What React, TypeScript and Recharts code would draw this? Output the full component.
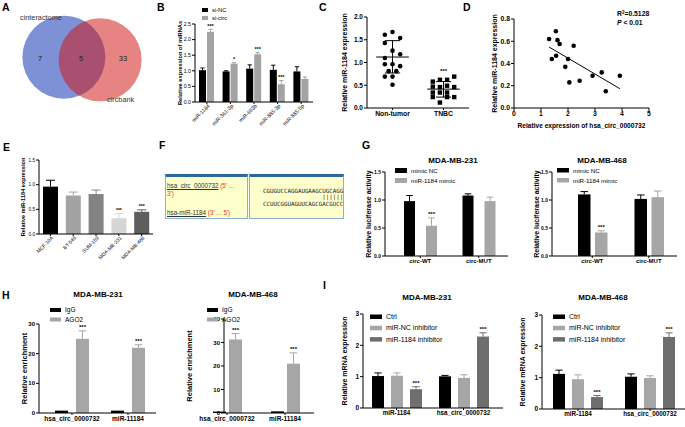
import React from "react";
import { BarChart, Bar, XAxis, YAxis, ScatterChart, Scatter, ReferenceLine } from "recharts";

const FONT = "'Liberation Sans', Arial, Helvetica, sans-serif";

// ---- A: venn
const vennNames = ["cinteractome", "circbank"];
const vennCounts = [7, 5, 33];

// ---- B
const bCats = ["miR-1184", "miR-361-3p", "miR-663b", "miR-885-3p", "miR-885-5p"];
const bNC = [1.02, 0.98, 1.07, 1.03, 0.98];
const bNCErr = [0.07, 0.02, 0.12, 0.15, 0.15];
const bCirc = [2.25, 1.23, 1.53, 0.57, 0.74];
const bCircErr = [0.08, 0.03, 0.05, 0.12, 0.06];
const bStars = ["***", "*", "***", "***", ""];
const bTicks = [0, 0.5, 1, 1.5, 2, 2.5];

// ---- C
const cCats = ["Non-tumor", "TNBC"];
const cNonTumor = [1.67, 1.61, 1.54, 1.43, 1.26, 1.18, 1.1, 0.96, 0.96, 0.92, 0.81, 0.81, 0.69, 0.69, 0.51];
const cNonTumorLane = [0, -1, 1, -1, 0, 1, -1, -1, 0, 1, -0.5, 0.5, -1, 0, 0];
const cTnbc = [0.69, 0.62, 0.62, 0.58, 0.49, 0.47, 0.46, 0.46, 0.34, 0.34, 0.34, 0.24, 0.24, 0.24, 0.12];
const cTnbcLane = [1.5, -0.5, 0.5, -1.5, 0.5, -1.5, -0.5, 1.5, -1.5, -0.5, 0.5, -1.5, 0.5, 1.5, -0.5];
const cMean = [1.12, 0.415];
const cSdLow = [0.77, 0.24];
const cSdHigh = [1.48, 0.58];
const cTicks = [0, 0.5, 1, 1.5, 2];

// ---- D
const dX = [1.3, 1.55, 1.61, 1.69, 2.21, 1.4, 1.56, 2.0, 1.9, 2.05, 2.43, 2.91, 3.25, 3.4, 3.92];
const dY = [0.62, 0.69, 0.61, 0.575, 0.56, 0.44, 0.47, 0.44, 0.37, 0.23, 0.245, 0.29, 0.32, 0.15, 0.29];
const dFitX = [1.3, 3.92];
const dFitY = [0.548, 0.174];
const dXTicks = [0, 1, 2, 3, 4, 5];
const dYTicks = [0, 0.2, 0.4, 0.6, 0.8];

// ---- E
const eCats = ["MCF-10A", "BT-549", "SUM-159", "MDA-MB-231", "MDA-MB-468"];
const eVals = [0.96, 0.78, 0.81, 0.32, 0.45];
const eErrs = [0.13, 0.07, 0.08, 0.09, 0.04];
const eStars = ["", "", "", "***", "***"];
const eColors = ["#000000", "#a3a3a3", "#838383", "#d6d6d6", "#5e5e5e"];
const eTicks = [0, 0.5, 1, 1.5];

// ---- G
const gCats = ["circ-WT", "circ-MUT"];
const g231NC = [0.98, 1.08];
const g231NCErr = [0.1, 0.03];
const g231Mimic = [0.54, 0.98];
const g231MimicErr = [0.14, 0.07];
const g468NC = [1.1, 1.02];
const g468NCErr = [0.05, 0.07];
const g468Mimic = [0.42, 1.05];
const g468MimicErr = [0.03, 0.11];
const gStars = ["***", ""];
const gTicks = [0, 0.5, 1, 1.5];

// ---- H
const hCats = ["hsa_circ_0000732", "miR-11184"];
const h231IgG = [0.8, 0.8];
const h231AGO2 = [25, 22];
const h231AGO2Err = [2.7, 1.0];
const h468IgG = [0.6, 0.7];
const h468AGO2 = [31.3, 21];
const h468AGO2Err = [2.5, 4.6];
const hStars = ["***", "***"];

// ---- I
const iCats = ["miR-1184", "hsa_circ_0000732"];
const i231Ctrl = [1.02, 1.01];
const i231CtrlErr = [0.1, 0.03];
const i231NC = [1.03, 0.96];
const i231NCErr = [0.09, 0.1];
const i231Inh = [0.6, 2.28];
const i231InhErr = [0.08, 0.12];
const i468Ctrl = [1.12, 1.03];
const i468CtrlErr = [0.12, 0.09];
const i468NC = [0.95, 0.99];
const i468NCErr = [0.14, 0.07];
const i468Inh = [0.38, 2.3];
const i468InhErr = [0.05, 0.13];
const iStars = ["***", "***"];
const iTicks = [0, 1, 2, 3];

const GREY = "#a6a6a6";
const DARK = "#6e6e6e";

function makeShape(vk: string, ek: string, sk: string, starFs: number) {
  return (p: any) => {
    const { x, y, width, height, fill, payload } = p;
    const v = payload[vk];
    const e = payload[ek] || 0;
    const k = v ? height / v : 0;
    const top = y - e * k;
    const cx = x + width / 2;
    const cap = Math.max(1.5, width * 0.3);
    const star = payload[sk];
    return (
      <g>
        <rect x={x} y={y} width={width} height={Math.max(height, 0)} fill={fill} />
        {e > 0 && (
          <path d={`M${cx},${y} V${top} M${cx - cap},${top} H${cx + cap}`} stroke={fill} strokeWidth={1} fill="none" />
        )}
        {star ? (
          <text x={cx} y={top - 1.5} textAnchor="middle" fontSize={starFs} fontFamily={FONT} fontWeight="bold" fill="#000">
            {star}
          </text>
        ) : null}
      </g>
    );
  };
}

const RotTick = (props: any) => {
  const { x, y, payload, fs } = props;
  return (
    <g transform={`translate(${x + 2},${y}) rotate(-45)`}>
      <text x={0} y={0} dy={fs * 0.35} textAnchor="end" fontSize={fs} fontFamily={FONT} fill="#000">
        {payload.value}
      </text>
    </g>
  );
};

type Series = { vals: number[]; errs: number[]; stars?: string[]; color: string };

function GroupChart(props: any) {
  const { left, top, width, height, margin, yWidth, xHeight, cats, series, domain, ticks, dec, yLabel, yOff, yFs, tickFs, xFs, barSize, barGap, rotate, xPad, bold, starFs } = props;
  const data = cats.map((c: string, i: number) => {
    const row: any = { cat: c };
    series.forEach((s: Series, j: number) => {
      row[`v${j}`] = s.vals[i];
      row[`e${j}`] = s.errs[i];
      row[`s${j}`] = s.stars ? s.stars[i] : "";
    });
    return row;
  });
  const fw = bold ? "bold" : "normal";
  return (
    <div style={{ position: "absolute", left, top }}>
      <BarChart width={width} height={height} data={data} margin={margin} barGap={barGap} barSize={barSize}>
        <XAxis
          dataKey="cat"
          height={xHeight}
          interval={0}
          tickSize={2}
          tickMargin={1}
          padding={xPad || { left: 0, right: 0 }}
          axisLine={{ stroke: "#000" }}
          tickLine={{ stroke: "#000" }}
          tick={rotate ? <RotTick fs={xFs} /> : { fill: "#000", fontSize: xFs, fontWeight: "bold", fontFamily: FONT }}
        />
        <YAxis
          width={yWidth}
          domain={domain}
          ticks={ticks}
          interval={0}
          tickSize={3}
          tickMargin={1}
          axisLine={{ stroke: "#000" }}
          tickLine={{ stroke: "#000" }}
          tickFormatter={(v: number) => v.toFixed(dec)}
          tick={{ fill: "#000", fontSize: tickFs, fontWeight: fw, fontFamily: FONT }}
          label={{
            value: yLabel,
            angle: -90,
            position: "insideLeft",
            offset: yOff,
            style: { textAnchor: "middle", fontSize: yFs, fontWeight: "bold", fill: "#000", fontFamily: FONT },
          }}
        />
        {series.map((s: Series, j: number) => (
          <Bar key={j} dataKey={`v${j}`} fill={s.color} isAnimationActive={false} shape={makeShape(`v${j}`, `e${j}`, `s${j}`, starFs)} />
        ))}
      </BarChart>
    </div>
  );
}

function EChart() {
  const data = eCats.map((c, i) => ({ cat: c, v0: eVals[i], e0: eErrs[i], s0: eStars[i], fill: eColors[i] }));
  const shape = makeShape("v0", "e0", "s0", 5);
  return (
    <div style={{ position: "absolute", left: 0, top: 135 }}>
      <BarChart width={160} height={130} data={data} margin={{ top: 25, right: 7, left: 0, bottom: 0 }} barSize={15}>
        <XAxis dataKey="cat" height={31} interval={0} tickSize={2} tickMargin={1} axisLine={{ stroke: "#000" }} tickLine={{ stroke: "#000" }} tick={<RotTick fs={5} />} />
        <YAxis
          width={39}
          domain={[0, 1.5]}
          ticks={eTicks}
          interval={0}
          tickSize={3}
          tickMargin={1}
          axisLine={{ stroke: "#000" }}
          tickLine={{ stroke: "#000" }}
          tickFormatter={(v: number) => v.toFixed(1)}
          tick={{ fill: "#000", fontSize: 4.6, fontFamily: FONT }}
          label={{ value: "Relative miR-1184 expression", angle: -90, position: "insideLeft", offset: 23, style: { textAnchor: "middle", fontSize: 5.6, fontWeight: "bold", fill: "#000", fontFamily: FONT } }}
        />
        <Bar dataKey="v0" isAnimationActive={false} shape={(p: any) => shape({ ...p, fill: p.payload.fill })} />
      </BarChart>
    </div>
  );
}

function VennChart() {
  const circles = [
    { x: -0.42, y: 0.18, color: "#7f91d6", op: 1 },
    { x: 0.42, y: 0.12, color: "#cf1414", op: 0.52 },
  ];
  const countPos = [-0.97, -0.02, 0.95];
  const counts = vennCounts.map((n, i) => ({ x: countPos[i], y: 0.16, n }));
  return (
    <div style={{ position: "absolute", left: 0, top: 0 }}>
      <ScatterChart width={164} height={130} margin={{ top: 0, right: 0, left: 0, bottom: 0 }}>
        <XAxis type="number" dataKey="x" domain={[-1.9, 1.9]} hide />
        <YAxis type="number" dataKey="y" domain={[-1.5, 1.5]} hide />
        {circles.map((c, i) => (
          <Scatter key={i} data={[c]} isAnimationActive={false} shape={(p: any) => <circle cx={p.cx} cy={p.cy} r={41.5} fill={c.color} fillOpacity={c.op} />} />
        ))}
        <Scatter
          data={counts}
          isAnimationActive={false}
          shape={(p: any) => (
            <text x={p.cx} y={p.cy + 2.7} textAnchor="middle" fontSize={7.5} fontFamily={FONT} fill="#222">
              {p.payload.n}
            </text>
          )}
        />
      </ScatterChart>
    </div>
  );
}

function CChart() {
  const lane = 0.15;
  const nt = cNonTumor.map((y, i) => ({ x: 0.5 + cNonTumorLane[i] * lane, y }));
  const tn = cTnbc.map((y, i) => ({ x: 1.5 + cTnbcLane[i] * 0.14, y }));
  const starY = Math.max(...cTnbc) + 0.12;
  return (
    <div style={{ position: "absolute", left: 330, top: 0 }}>
      <ScatterChart width={142} height={130} margin={{ top: 17, right: 3, left: 0, bottom: 7 }}>
        <XAxis
          type="number"
          dataKey="x"
          domain={[0, 2]}
          ticks={[0.5, 1.5]}
          height={15}
          tickSize={2}
          tickMargin={1}
          axisLine={{ stroke: "#000" }}
          tickLine={{ stroke: "#000" }}
          tickFormatter={(v: number) => cCats[Math.floor(v)]}
          tick={{ fill: "#000", fontSize: 6.8, fontWeight: "bold", fontFamily: FONT }}
        />
        <YAxis
          type="number"
          dataKey="y"
          width={37}
          domain={[0, 2]}
          ticks={cTicks}
          interval={0}
          tickSize={3}
          tickMargin={1}
          axisLine={{ stroke: "#000" }}
          tickLine={{ stroke: "#000" }}
          tickFormatter={(v: number) => v.toFixed(1)}
          tick={{ fill: "#000", fontSize: 6.5, fontWeight: "bold", fontFamily: FONT }}
          label={{ value: "Relative miR-1184 expression", angle: -90, position: "insideLeft", offset: 15, style: { textAnchor: "middle", fontSize: 7, fontWeight: "bold", fill: "#000", fontFamily: FONT } }}
        />
        <Scatter data={nt} isAnimationActive={false} shape={(p: any) => <circle cx={p.cx} cy={p.cy} r={2.3} fill="#000" />} />
        <Scatter data={tn} isAnimationActive={false} shape={(p: any) => <rect x={p.cx - 2.2} y={p.cy - 2.2} width={4.4} height={4.4} fill="#000" />} />
        {cMean.map((m, i) => (
          <ReferenceLine key={`m${i}`} segment={[{ x: i + 0.5 - 0.32, y: m }, { x: i + 0.5 + 0.32, y: m }]} stroke="#000" strokeWidth={1} />
        ))}
        {cMean.map((_, i) => (
          <ReferenceLine key={`v${i}`} segment={[{ x: i + 0.5, y: cSdLow[i] }, { x: i + 0.5, y: cSdHigh[i] }]} stroke="#000" strokeWidth={1} />
        ))}
        {cMean.map((_, i) => (
          <ReferenceLine key={`l${i}`} segment={[{ x: i + 0.5 - 0.15, y: cSdLow[i] }, { x: i + 0.5 + 0.15, y: cSdLow[i] }]} stroke="#000" strokeWidth={1} />
        ))}
        {cMean.map((_, i) => (
          <ReferenceLine key={`h${i}`} segment={[{ x: i + 0.5 - 0.15, y: cSdHigh[i] }, { x: i + 0.5 + 0.15, y: cSdHigh[i] }]} stroke="#000" strokeWidth={1} />
        ))}
        <Scatter
          data={[{ x: 1.5, y: starY }]}
          isAnimationActive={false}
          shape={(p: any) => (
            <text x={p.cx} y={p.cy + 2} textAnchor="middle" fontSize={6} fontWeight="bold" fontFamily={FONT} fill="#000">
              ***
            </text>
          )}
        />
      </ScatterChart>
    </div>
  );
}

function DChart() {
  const pts = dX.map((x, i) => ({ x, y: dY[i] }));
  return (
    <div style={{ position: "absolute", left: 470, top: 0 }}>
      <ScatterChart width={186} height={132} margin={{ top: 19, right: 7, left: 0, bottom: 2 }}>
        <XAxis
          type="number"
          dataKey="x"
          domain={[0, 5]}
          ticks={dXTicks}
          interval={0}
          height={22}
          tickSize={3}
          tickMargin={0}
          axisLine={{ stroke: "#000" }}
          tickLine={{ stroke: "#000" }}
          tick={{ fill: "#000", fontSize: 6.8, fontWeight: "bold", fontFamily: FONT }}
          label={{ value: "Relative expression of hsa_circ_0000732", position: "insideBottom", offset: 2, style: { fontSize: 6.6, fontWeight: "bold", fill: "#000", fontFamily: FONT } }}
        />
        <YAxis
          type="number"
          dataKey="y"
          width={44}
          domain={[0, 0.8]}
          ticks={dYTicks}
          interval={0}
          tickSize={3}
          tickMargin={1}
          axisLine={{ stroke: "#000" }}
          tickLine={{ stroke: "#000" }}
          tickFormatter={(v: number) => v.toFixed(1)}
          tick={{ fill: "#000", fontSize: 6.8, fontWeight: "bold", fontFamily: FONT }}
          label={{ value: "Relative miR-1184 expression", angle: -90, position: "insideLeft", offset: 25, style: { textAnchor: "middle", fontSize: 7, fontWeight: "bold", fill: "#000", fontFamily: FONT } }}
        />
        <Scatter data={pts} isAnimationActive={false} shape={(p: any) => <circle cx={p.cx} cy={p.cy} r={2.3} fill="#000" />} />
        <ReferenceLine segment={[{ x: dFitX[0], y: dFitY[0] }, { x: dFitX[1], y: dFitY[1] }]} stroke="#000" strokeWidth={1} />
      </ScatterChart>
    </div>
  );
}

function Legend({ x, y, items, fs, w, h, step }: any) {
  return (
    <g>
      {items.map((it: any, i: number) => (
        <g key={i}>
          <rect x={x} y={y + i * step} width={w} height={h} fill={it.color} />
          <text x={x + w + 4} y={y + i * step + h} fontSize={fs} fontFamily={FONT} fill="#000">
            {it.name}
          </text>
        </g>
      ))}
    </g>
  );
}

const letter = (t: string, x: number, y: number) => (
  <text x={x} y={y} fontSize={10.5} fontWeight="bold" fontFamily={FONT} fill="#000">
    {t}
  </text>
);
const title = (t: string, x: number, y: number) => (
  <text x={x} y={y} textAnchor="middle" fontSize={8} fontWeight="bold" fontFamily={FONT} fill="#000">
    {t}
  </text>
);

function FPanel() {
  const cell: any = {
    position: "absolute",
    top: 174,
    height: 45,
    boxSizing: "border-box",
    background: "#ffffcc",
    border: "1px solid #86b0da",
    borderTop: "3px solid #2a689f",
  };
  const seqStyle: any = { position: "absolute", left: 13, fontFamily: "'DejaVu Sans Mono', monospace", fontSize: 5.8, whiteSpace: "pre", color: "#222", lineHeight: "7px" };
  return (
    <div>
      <div style={{ ...cell, left: 165, width: 83 }}>
        <div style={{ position: "absolute", left: 1, top: 5, fontSize: 6.3, lineHeight: "8px", fontFamily: FONT, color: "#333", width: 80 }}>
          <span style={{ textDecoration: "underline" }}>hsa_circ_0000732</span> <span style={{ color: "#e8332a" }}>(5' ...</span>
          <br />
          <span style={{ color: "#e8332a" }}>3')</span>
        </div>
        <div style={{ position: "absolute", left: 1, top: 32, fontSize: 6.3, lineHeight: "8px", fontFamily: FONT, color: "#333" }}>
          <span style={{ textDecoration: "underline" }}>hsa-miR-1184</span> <span style={{ color: "#e8332a" }}>(3' ... 5')</span>
        </div>
      </div>
      <div style={{ ...cell, left: 249, width: 95 }}>
        <div style={{ ...seqStyle, top: 11 }}>CGUGUCCAGGAUGAAGCUGCAGG</div>
        <div style={{ ...seqStyle, top: 17 }}>{"                 ||||||"}</div>
        <div style={{ ...seqStyle, top: 24 }}>CCUUCGGUAGUUCAGCGACGUCC</div>
      </div>
    </div>
  );
}

export default function App() {
  return (
    <div style={{ position: "absolute", left: 0, top: 0, width: 685, height: 427, overflow: "hidden", background: "#fff", fontFamily: FONT }}>
      <VennChart />
      <GroupChart
        left={165} top={0} width={155} height={130}
        margin={{ top: 24, right: 7, left: 0, bottom: 0 }}
        yWidth={30} xHeight={28} cats={bCats}
        series={[
          { vals: bNC, errs: bNCErr, color: "#000" },
          { vals: bCirc, errs: bCircErr, stars: bStars, color: "#a3a3a3" },
        ]}
        domain={[0, 2.5]} ticks={bTicks} dec={1}
        yLabel="Relative expression of miRNAs" yOff={15} yFs={5.7} tickFs={5.2} xFs={5.3}
        barSize={7} barGap={1} rotate starFs={5.5}
      />
      <CChart />
      <DChart />
      <EChart />
      <FPanel />
      <GroupChart
        left={340} top={130} width={172} height={138}
        margin={{ top: 42, right: 4, left: 0, bottom: 2 }}
        yWidth={45} xHeight={10} cats={gCats}
        series={[
          { vals: g231NC, errs: g231NCErr, color: "#000" },
          { vals: g231Mimic, errs: g231MimicErr, stars: gStars, color: GREY },
        ]}
        domain={[0, 1.5]} ticks={gTicks} dec={1}
        yLabel="Relative luciferase activity" yOff={29} yFs={7} tickFs={5} xFs={6} xPad={{ left: 6, right: 0 }}
        barSize={11} barGap={11} bold starFs={6}
      />
      <GroupChart
        left={510} top={130} width={176} height={138}
        margin={{ top: 42, right: 9, left: 0, bottom: 2 }}
        yWidth={42} xHeight={10} cats={gCats}
        series={[
          { vals: g468NC, errs: g468NCErr, color: "#000" },
          { vals: g468Mimic, errs: g468MimicErr, stars: gStars, color: GREY },
        ]}
        domain={[0, 1.5]} ticks={gTicks} dec={1}
        yLabel="Relative luciferase activity" yOff={27} yFs={7} tickFs={5} xFs={6} xPad={{ left: 12, right: 0 }}
        barSize={12.5} barGap={4.5} bold starFs={6}
      />
      <GroupChart
        left={0} top={285} width={160} height={142}
        margin={{ top: 39, right: 4, left: 0, bottom: 2 }}
        yWidth={39} xHeight={12} cats={hCats}
        series={[
          { vals: h231IgG, errs: [0, 0], color: "#000" },
          { vals: h231AGO2, errs: h231AGO2Err, stars: hStars, color: GREY },
        ]}
        domain={[0, 30]} ticks={[0, 10, 20, 30]} dec={0}
        yLabel="Relative enrichment" yOff={24} yFs={7.5} tickFs={6} xFs={6.5} xPad={{ left: 5, right: 0 }}
        barSize={13} barGap={8} bold starFs={6}
      />
      <GroupChart
        left={165} top={285} width={165} height={142}
        margin={{ top: 34, right: 16, left: 0, bottom: 2 }}
        yWidth={59} xHeight={12} cats={hCats}
        series={[
          { vals: h468IgG, errs: [0, 0], color: "#000" },
          { vals: h468AGO2, errs: h468AGO2Err, stars: hStars, color: GREY },
        ]}
        domain={[0, 40]} ticks={[0, 10, 20, 30, 40]} dec={0}
        yLabel="Relative enrichment" yOff={24} yFs={7.5} tickFs={6} xFs={6.5} xPad={{ left: -26, right: 0 }}
        barSize={13} barGap={3} bold starFs={6}
      />
      <GroupChart
        left={330} top={285} width={178} height={142}
        margin={{ top: 29, right: 5, left: 0, bottom: 3 }}
        yWidth={33} xHeight={16} cats={iCats}
        series={[
          { vals: i231Ctrl, errs: i231CtrlErr, color: "#000" },
          { vals: i231NC, errs: i231NCErr, color: GREY },
          { vals: i231Inh, errs: i231InhErr, stars: iStars, color: DARK },
        ]}
        domain={[0, 3]} ticks={iTicks} dec={0}
        yLabel="Relative mRNA expression" yOff={15} yFs={7} tickFs={6.5} xFs={6.3} xPad={{ left: 0, right: 6 }}
        barSize={12} barGap={7} bold starFs={6}
      />
      <GroupChart
        left={505} top={285} width={181} height={142}
        margin={{ top: 30, right: 0, left: 0, bottom: 2 }}
        yWidth={37} xHeight={16} cats={iCats}
        series={[
          { vals: i468Ctrl, errs: i468CtrlErr, color: "#000" },
          { vals: i468NC, errs: i468NCErr, color: GREY },
          { vals: i468Inh, errs: i468InhErr, stars: iStars, color: DARK },
        ]}
        domain={[0, 3]} ticks={iTicks} dec={0}
        yLabel="Relative mRNA expression" yOff={18} yFs={7} tickFs={6.5} xFs={6.3}
        barSize={12} barGap={7} bold starFs={6}
      />
      <svg width={685} height={427} style={{ position: "absolute", left: 0, top: 0, pointerEvents: "none" }}>
        {letter("A", 2, 10.5)}
        {letter("B", 157, 10.5)}
        {letter("C", 319, 10.5)}
        {letter("D", 463, 10.5)}
        {letter("E", 3, 150.5)}
        {letter("F", 159, 148.5)}
        {letter("G", 362, 148.5)}
        {letter("H", 2, 298.5)}
        {letter("I", 323, 288.5)}
        <text x={20} y={19.5} fontSize={7.3} fontFamily={FONT} fill="#333">{vennNames[0]}</text>
        <text x={107} y={102} fontSize={7.3} fontFamily={FONT} fill="#333">{vennNames[1]}</text>
        <Legend x={202} y={8} w={6} h={4} step={8} fs={5.8} items={[{ name: "si-NC", color: "#000" }, { name: "si-circ", color: "#a3a3a3" }]} />
        <text x={617} y={16} fontSize={6.8} fontWeight="bold" fontFamily={FONT} fill="#000">
          R<tspan fontSize={4.5} dy={-2.5}>2</tspan><tspan dy={2.5}>=0.5128</tspan>
        </text>
        <text x={617} y={24.5} fontSize={6.8} fontWeight="bold" fontFamily={FONT} fill="#000">
          <tspan fontStyle="italic">P</tspan> &lt; 0.01
        </text>
        {title("MDA-MB-231", 453, 163)}
        {title("MDA-MB-468", 602, 163)}
        <Legend x={395} y={168} w={12} h={5} step={10} fs={6.2} items={[{ name: "mimic NC", color: "#000" }, { name: "miR-1184 mimic", color: GREY }]} />
        <Legend x={557} y={168} w={12} h={4.5} step={10} fs={6.2} items={[{ name: "mimic NC", color: "#000" }, { name: "miR-1184 mimic", color: GREY }]} />
        {title("MDA-MB-231", 98, 297)}
        {title("MDA-MB-468", 253, 297)}
        <Legend x={50} y={308} w={11} h={4} step={9.5} fs={6.5} items={[{ name: "IgG", color: "#000" }, { name: "AGO2", color: GREY }]} />
        <Legend x={207} y={308} w={11} h={4} step={9.5} fs={6.5} items={[{ name: "IgG", color: "#000" }, { name: "AGO2", color: GREY }]} />
        {title("MDA-MB-231", 427, 300)}
        {title("MDA-MB-468", 603, 300)}
        <Legend x={370} y={314.5} w={12} h={4.5} step={11.3} fs={7} items={[{ name: "Ctrl", color: "#000" }, { name: "miR-NC inhibitor", color: GREY }, { name: "miR-1184 inhibitor", color: DARK }]} />
        <Legend x={553} y={314.5} w={12} h={4.5} step={11.3} fs={7} items={[{ name: "Ctrl", color: "#000" }, { name: "miR-NC inhibitor", color: GREY }, { name: "miR-1184 inhibitor", color: DARK }]} />
      </svg>
    </div>
  );
}
